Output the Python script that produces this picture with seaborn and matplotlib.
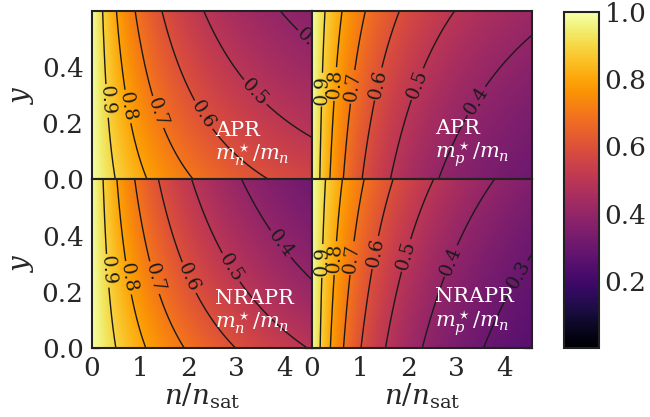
import numpy as np
import matplotlib
matplotlib.use("Agg")
import matplotlib.pyplot as plt
from matplotlib.ticker import MultipleLocator, FormatStrFormatter
import seaborn as sns

# Grid: baryon density in units of n_sat and proton fraction y
n_sat = 0.16          # fm^-3
n_max = 4.56
y_max = 0.6
hbar2_2m = 20.72      # MeV fm^2

# APR momentum-dependent couplings (MeV fm^5, fm^3, MeV fm^5)
apr_p3 = 89.8
apr_p4 = 0.457
apr_p5 = -59.0

# NRAPR Skyrme couplings
nrapr_t1 = 417.64
nrapr_t2 = -66.687
nrapr_x1 = -0.047986
nrapr_x2 = 0.027170

contour_levels = [0.3, 0.4, 0.5, 0.6, 0.7, 0.8, 0.9]
cbar_ticks = [0.2, 0.4, 0.6, 0.8, 1.0]
x_ticks = [0, 1, 2, 3, 4]
y_ticks = [0.0, 0.2, 0.4]
model_names = ["APR", "APR", "NRAPR", "NRAPR"]
mass_labels = [r"$m_n^\star/m_n$", r"$m_p^\star/m_n$",
               r"$m_n^\star/m_n$", r"$m_p^\star/m_n$"]

# rows (in y) along which the contour labels sit, per panel and level
label_rows = [
    {0.9: 0.28, 0.8: 0.26, 0.7: 0.24, 0.6: 0.23, 0.5: 0.31, 0.4: 0.49},
    {0.9: 0.32, 0.8: 0.34, 0.7: 0.33, 0.6: 0.34, 0.5: 0.34, 0.4: 0.28},
    {0.9: 0.275, 0.8: 0.25, 0.7: 0.25, 0.6: 0.25, 0.5: 0.286, 0.4: 0.37},
    {0.9: 0.31, 0.8: 0.32, 0.7: 0.32, 0.6: 0.34, 0.5: 0.33, 0.4: 0.31, 0.3: 0.26},
]

u = np.linspace(0.0, n_max, 260)
yy = np.linspace(0.0, y_max, 200)
U, Y = np.meshgrid(u, yy)
N = U * n_sat


def apr_ratio(frac_other):
    coef = (apr_p3 + frac_other * apr_p5) * N * np.exp(-apr_p4 * N)
    return 1.0 / (1.0 + coef / hbar2_2m)


def nrapr_ratio(n_q):
    a = (nrapr_t1 * (2 + nrapr_x1) + nrapr_t2 * (2 + nrapr_x2)) / 8.0
    b = (nrapr_t1 * (1 + 2 * nrapr_x1) - nrapr_t2 * (1 + 2 * nrapr_x2)) / 8.0
    return 1.0 / (1.0 + (a * N - b * n_q) / hbar2_2m)


fields = [
    apr_ratio(1.0 - Y),          # neutrons, APR
    apr_ratio(Y),                # protons, APR
    nrapr_ratio((1.0 - Y) * N),  # neutrons, NRAPR
    nrapr_ratio(Y * N),          # protons, NRAPR
]

sns.set_theme(style="ticks")
plt.rcParams["font.family"] = ["DejaVu Serif"]
plt.rcParams["mathtext.fontset"] = "dejavuserif"

cmap = sns.color_palette("inferno", as_cmap=True)
edge = "#222222"

fig = plt.figure(figsize=(6.5, 4.17), dpi=100)
gs = fig.add_gridspec(2, 2, left=0.1415, right=0.8185, top=0.9736,
                      bottom=0.1655, wspace=0.0, hspace=0.0)

mesh = None
for k in range(4):
    r, c = divmod(k, 2)
    ax = fig.add_subplot(gs[r, c])
    Z = fields[k]
    mesh = ax.pcolormesh(U, Y, Z, cmap=cmap, vmin=0.0, vmax=1.0,
                         shading="gouraud", rasterized=True)
    cs = ax.contour(U, Y, Z, levels=contour_levels, colors="k",
                    linewidths=1.0)
    spots = []
    for lev, row_y in label_rows[k].items():
        j = np.argmin(np.abs(yy - row_y))
        prof = Z[j]
        if prof.min() <= lev <= prof.max():
            xs = np.interp(lev, prof[::-1], u[::-1])
            spots.append((xs, row_y))
    labs = ax.clabel(cs, inline=True, fontsize=13.5, fmt="%.1f",
                     manual=spots, inline_spacing=2)
    for t in labs:
        t.set_clip_on(True)

    ax.set_xlim(0, n_max)
    ax.set_ylim(0, y_max)
    ax.set_xticks(x_ticks)
    ax.set_yticks(y_ticks)
    ax.xaxis.set_minor_locator(MultipleLocator(0.2))
    ax.yaxis.set_minor_locator(MultipleLocator(0.05))
    ax.tick_params(which="both", direction="in", top=True, right=True,
                   color=edge, width=0.9)
    ax.tick_params(which="major", length=6, labelsize=19, pad=6)
    ax.tick_params(which="minor", length=3)
    for sp in ax.spines.values():
        sp.set_linewidth(1.5)
        sp.set_color(edge)
    if r == 0:
        ax.tick_params(labelbottom=False)
    else:
        ax.set_xlabel(r"$n/n_{\rm sat}$", fontsize=20, labelpad=0)
    if c == 1:
        ax.tick_params(labelleft=False)
    else:
        ax.set_ylabel(r"$y$", fontsize=20, labelpad=4)
        ax.yaxis.set_major_formatter(FormatStrFormatter("%.1f"))

    ax.text(0.56, 0.21, model_names[k] + "\n" + mass_labels[k],
            transform=ax.transAxes, color="white", fontsize=15,
            ha="left", va="center", linespacing=1.1)

cax = fig.add_axes([0.8677, 0.1655, 0.0538, 0.8055])
cb = fig.colorbar(mesh, cax=cax, ticks=cbar_ticks)
cb.ax.set_yticklabels([f"{t:.1f}" for t in cbar_ticks])
cb.ax.tick_params(direction="in", length=6, labelsize=19, color=edge,
                  width=0.9, pad=4)
cb.outline.set_linewidth(1.5)
cb.outline.set_edgecolor(edge)

fig.savefig("out.png", dpi=100)
